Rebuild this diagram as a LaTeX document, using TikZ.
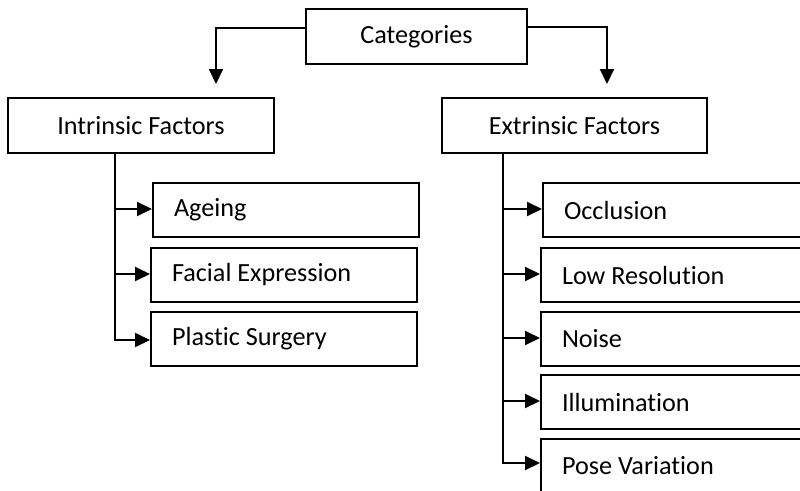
\documentclass[tikz,border=0pt]{standalone}
\usepackage{fontspec}
\setmainfont{Carlito}[Ligatures={NoCommon,NoRare}]
\usetikzlibrary{arrows.meta,positioning,calc}

\begin{document}
\begin{tikzpicture}[x=1pt,y=-1pt,
  box/.style={draw=black,line width=2pt,rectangle,fill=white,
    font=\fontsize{26.2}{30}\selectfont,inner sep=0pt},
  headbox/.style={box,anchor=north west,minimum height=55pt},
  itembox/.style={box,anchor=north west,minimum height=54pt,
    text width=224pt,inner xsep=21pt,align=flush left},
  link/.style={line width=2pt},
  arr/.style={link,-{Triangle[length=15pt,width=14pt]}}]
  \clip (0,0) rectangle (800,490);
  \fill[white] (0,0) rectangle (800,490);

  % top level
  \node[headbox,minimum width=221pt] (cat) at (305,8) {Categories};

  % two main groups
  \node[headbox,minimum width=266pt] (intr) at (7,97) {Intrinsic Factors};
  \node[headbox,minimum width=265pt] (extr) at (441,97) {Extrinsic Factors};

  % intrinsic factors
  \node[itembox] (age) at (152,182) {Ageing};
  \node[itembox] (fac) at (150,247) {Facial Expression};
  \node[itembox] (pla) at (150,311) {Plastic Surgery};

  % extrinsic factors
  \node[itembox] (occ) at (542,182) {Occlusion};
  \node[itembox] (low) at (540,247) {Low Resolution};
  \node[itembox] (noi) at (540,311) {Noise};
  \node[itembox] (ill) at (540,374) {Illumination};
  \node[itembox] (pos) at (540,438) {Pose Variation};

  % branches from the top box
  \coordinate (ltip) at (216,84);
  \coordinate (rtip) at (607,84);
  \draw[arr] ([yshift=9pt]cat.west) -| (ltip);
  \draw[arr] ([yshift=10pt]cat.east) -| (rtip);

  % intrinsic trunk and arrows
  \coordinate (ltrunk) at ($(intr.south west)+(108,0)$);
  \draw[link] (ltrunk) -- (ltrunk |- 0,341);
  \draw[arr] (ltrunk |- 0,209) -- (age.west |- 0,209);
  \draw[arr] (ltrunk |- 0,274) -- (fac.west |- 0,274);
  \draw[arr] (ltrunk |- 0,340) -- (pla.west |- 0,340);

  % extrinsic trunk and arrows
  \coordinate (rtrunk) at ($(extr.south west)+(62,0)$);
  \draw[link] (rtrunk) -- (rtrunk |- 0,464);
  \draw[arr] (rtrunk |- 0,209) -- (occ.west |- 0,209);
  \draw[arr] (rtrunk |- 0,274) -- (low.west |- 0,274);
  \draw[arr] (rtrunk |- 0,338) -- (noi.west |- 0,338);
  \draw[arr] (rtrunk |- 0,401) -- (ill.west |- 0,401);
  \draw[arr] (rtrunk |- 0,463) -- (pos.west |- 0,463);
\end{tikzpicture}
\end{document}
